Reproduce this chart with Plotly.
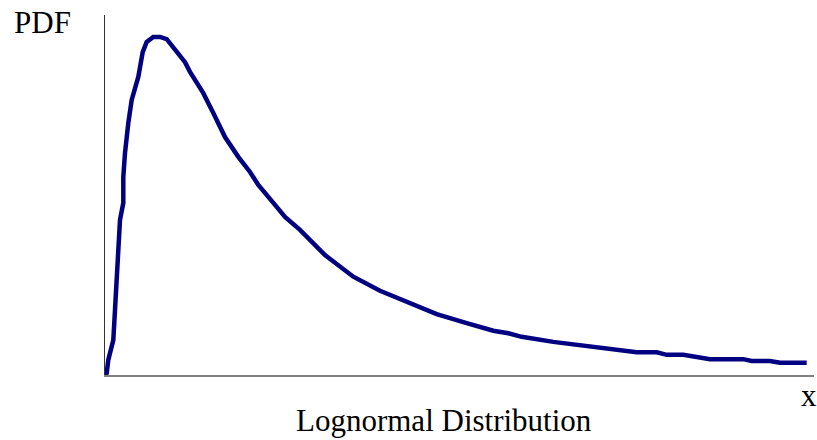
import plotly.graph_objects as go

# Curve (arbitrary units)
x_vals = [0.005, 0.017, 0.033, 0.083, 0.10, 0.117, 0.133, 0.15, 0.183, 0.183, 0.20, 0.217, 0.233,
          0.267, 0.283, 0.333, 0.377, 0.417, 0.483, 0.55, 0.617, 0.717, 0.80, 0.85, 0.983,
          1.083, 1.20, 1.333, 1.45, 1.533, 1.65, 1.717, 1.80, 1.95, 2.20, 2.483, 2.75, 2.983,
          3.317, 3.617, 3.883, 4.033, 4.167, 4.483, 4.817, 5.15, 5.317, 5.517, 5.617, 5.783,
          6.05, 6.383, 6.467, 6.65, 6.75, 7.017]
pdf_vals = [0.0, 0.005, 0.042, 0.097, 0.181, 0.283, 0.356, 0.431, 0.478, 0.55, 0.617, 0.672, 0.70,
            0.764, 0.778, 0.828, 0.897, 0.925, 0.939, 0.939, 0.933, 0.897, 0.869, 0.842, 0.783,
            0.728, 0.661, 0.606, 0.564, 0.528, 0.486, 0.467, 0.439, 0.403, 0.333, 0.273, 0.234, 0.208,
            0.169, 0.144, 0.123, 0.116, 0.106, 0.092, 0.081, 0.068, 0.063, 0.063, 0.056, 0.056,
            0.044, 0.044, 0.039, 0.039, 0.034, 0.034]

y_label = "PDF"
x_label = "x"
title_text = "Lognormal Distribution"

FONT = "Liberation Serif, Times New Roman, serif"

fig = go.Figure()
fig.add_trace(go.Scatter(
    x=x_vals, y=pdf_vals, mode="lines",
    line=dict(color="#000080", width=4.5, shape="linear"),
    hoverinfo="skip", showlegend=False,
))

fig.update_layout(
    width=817, height=440,
    margin=dict(l=105, r=3, t=15, b=65),
    paper_bgcolor="white", plot_bgcolor="white",
    showlegend=False,
    xaxis=dict(range=[0, 7.09], showgrid=False, zeroline=False, showticklabels=False,
               ticks="", showline=True, linecolor="#808080", linewidth=2, fixedrange=True),
    yaxis=dict(range=[0, 1.0], showgrid=False, zeroline=False, showticklabels=False,
               ticks="", showline=True, linecolor="#333333", linewidth=1, fixedrange=True),
    annotations=[
        dict(text=y_label, xref="paper", yref="paper", x=-0.131, y=0.98,
             xanchor="left", yanchor="middle", showarrow=False,
             font=dict(family=FONT, size=31, color="black")),
        dict(text=x_label, xref="paper", yref="paper", x=0.993, y=-0.058,
             xanchor="center", yanchor="middle", showarrow=False,
             font=dict(family=FONT, size=31, color="black")),
        dict(text=title_text, xref="paper", yref="paper", x=0.478, y=-0.125,
             xanchor="center", yanchor="middle", showarrow=False,
             font=dict(family=FONT, size=31, color="black")),
    ],
)

fig.write_html("out.html", config={"displayModeBar": False, "staticPlot": True})

with open("out.html", "r", encoding="utf-8") as f:
    html = f.read()
html = html.replace("<body>", '<body style="margin:0;padding:0;overflow:hidden">', 1)
with open("out.html", "w", encoding="utf-8") as f:
    f.write(html)
